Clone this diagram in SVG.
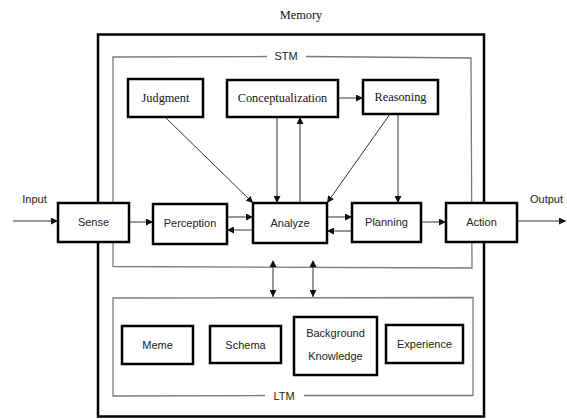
<svg xmlns="http://www.w3.org/2000/svg" width="567" height="419" viewBox="0 0 567 419">
<defs>
<style>
.bx{fill:#fff;stroke:#000;stroke-width:2.5}
.reg{fill:none;stroke:#7a7a7a;stroke-width:1.3}
.mem{fill:none;stroke:#000;stroke-width:2.5}
.ar{fill:none;stroke:#333;stroke-width:1}
.s{font-family:"Liberation Sans",Arial,sans-serif;font-size:11px;fill:#222;text-anchor:middle}
.t{font-family:"Liberation Serif","Times New Roman",serif;font-size:12.3px;fill:#111;text-anchor:middle}
</style>
<marker id="ah" viewBox="0 0 10 10" refX="10" refY="5" markerWidth="7" markerHeight="7" markerUnits="userSpaceOnUse" orient="auto">
<path d="M0,0 L10,5 L0,10 z" fill="#111"/>
</marker>
<marker id="as" viewBox="0 0 10 10" refX="0" refY="5" markerWidth="7" markerHeight="7" markerUnits="userSpaceOnUse" orient="auto-start-reverse">
<path d="M0,0 L10,5 L0,10 z" fill="#111"/>
</marker>
</defs>
<rect width="567" height="419" fill="#fff"/>
<g id="memory">
<rect class="mem" x="98" y="34.5" width="386" height="382"/>
<text class="t" x="301" y="19">Memory</text>
</g>
<g id="stm">
<path class="reg" d="M267,56.5 L113,57 L113,266.5 L472,268 L471,58 L306,56.5"/>
<text class="s" x="286" y="60">STM</text>
</g>
<g id="ltm">
<path class="reg" d="M265,395.5 L113,396 L113,298 L473,297.5 L473,395.5 L304,395.5"/>
<text class="s" x="284" y="400">LTM</text>
</g>
<g id="connectors">
<line class="ar" x1="13" y1="221" x2="58" y2="221" marker-end="url(#ah)"/>
<line class="ar" x1="129" y1="222" x2="153" y2="222" marker-end="url(#ah)"/>
<line class="ar" x1="227" y1="217" x2="253" y2="217" marker-end="url(#ah)"/>
<line class="ar" x1="253" y1="230" x2="227" y2="230" marker-end="url(#ah)"/>
<line class="ar" x1="327" y1="217" x2="352" y2="217" marker-end="url(#ah)"/>
<line class="ar" x1="352" y1="231" x2="327" y2="231" marker-end="url(#ah)"/>
<line class="ar" x1="421" y1="222" x2="446" y2="222" marker-end="url(#ah)"/>
<line class="ar" x1="517" y1="221" x2="566" y2="221" marker-end="url(#ah)"/>
<line class="ar" x1="165" y1="117" x2="253" y2="203" marker-end="url(#ah)"/>
<line class="ar" x1="277" y1="117" x2="277" y2="203" marker-end="url(#ah)"/>
<line class="ar" x1="300" y1="203" x2="300" y2="117" marker-end="url(#ah)"/>
<line class="ar" x1="338" y1="98" x2="363" y2="98" marker-end="url(#ah)"/>
<line class="ar" x1="390" y1="114" x2="327" y2="203" marker-end="url(#ah)"/>
<line class="ar" x1="398" y1="114" x2="398" y2="203" marker-end="url(#ah)"/>
<line class="ar" x1="273" y1="267" x2="273" y2="297" marker-start="url(#as)" marker-end="url(#ah)"/>
<line class="ar" x1="313" y1="267" x2="313" y2="297" marker-start="url(#as)" marker-end="url(#ah)"/>
</g>
<g id="input"><text class="s" x="34.5" y="203">Input</text></g>
<g id="output"><text class="s" x="546.5" y="203">Output</text></g>
<g id="judgment"><rect class="bx" x="128" y="79" width="75" height="38"/><text class="t" x="165.5" y="102">Judgment</text></g>
<g id="conceptualization"><rect class="bx" x="227" y="80" width="111" height="37"/><text class="t" x="282.5" y="102">Conceptualization</text></g>
<g id="reasoning"><rect class="bx" x="363" y="80" width="75" height="34"/><text class="t" x="400.5" y="101">Reasoning</text></g>
<g id="sense"><rect class="bx" x="58" y="203" width="71" height="39"/><text class="s" x="93.5" y="226">Sense</text></g>
<g id="perception"><rect class="bx" x="153" y="204" width="74" height="40"/><text class="s" x="190" y="227">Perception</text></g>
<g id="analyze"><rect class="bx" x="253" y="203" width="74" height="40"/><text class="s" x="290" y="227">Analyze</text></g>
<g id="planning"><rect class="bx" x="352" y="203" width="69" height="39"/><text class="s" x="386.5" y="226">Planning</text></g>
<g id="action"><rect class="bx" x="446" y="203" width="71" height="39"/><text class="s" x="481.5" y="226">Action</text></g>
<g id="meme"><rect class="bx" x="122" y="326" width="71" height="38"/><text class="s" x="157.5" y="349">Meme</text></g>
<g id="schema"><rect class="bx" x="210" y="326" width="71" height="37"/><text class="s" x="245.5" y="348.5">Schema</text></g>
<g id="background"><rect class="bx" x="294" y="317" width="83" height="58"/><text class="s" x="335.5" y="337">Background</text><text class="s" x="335.5" y="360">Knowledge</text></g>
<g id="experience"><rect class="bx" x="386" y="325" width="77" height="38"/><text class="s" x="424.5" y="348">Experience</text></g>
</svg>
